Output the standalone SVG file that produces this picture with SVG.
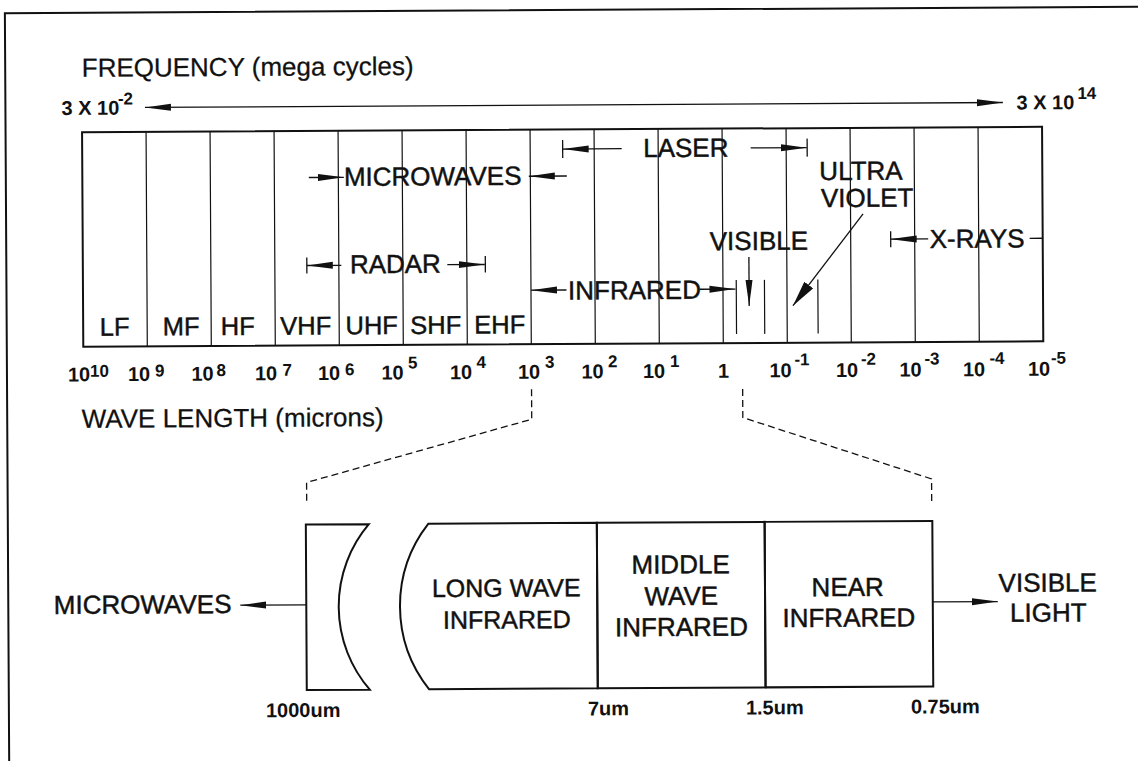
<svg xmlns="http://www.w3.org/2000/svg" width="1138" height="761" viewBox="0 0 1138 761">
<style>
.t{font-family:"Liberation Sans",Arial,Helvetica,sans-serif;fill:#111}
.h{font-size:26px;stroke:#111;stroke-width:0.45}
.ti{font-size:26px;stroke:#111;stroke-width:0.25}
.c{font-size:25.5px;text-anchor:middle;stroke:#111;stroke-width:0.45}
.m{font-size:26px;text-anchor:middle;stroke:#111;stroke-width:0.45}
.b{font-weight:bold;font-size:20px}
.s{font-weight:bold;font-size:17px}
.bx{stroke:#111;stroke-width:2;fill:none}
.dv{stroke:#111;stroke-width:1.2;fill:none}
.ln{stroke:#111;stroke-width:1.3;fill:none}
.ds{stroke:#111;stroke-width:1.3;fill:none;stroke-dasharray:7 4}
</style>
<defs>
<marker id="ah" viewBox="0 0 26 8" refX="26" refY="4" markerWidth="26" markerHeight="8" markerUnits="userSpaceOnUse" orient="auto-start-reverse"><path d="M0,0.5 L26,4 L0,7.5 Z" fill="#111"/></marker>
<marker id="ahw" viewBox="0 0 26 11" refX="26" refY="5.5" markerWidth="26" markerHeight="11" markerUnits="userSpaceOnUse" orient="auto"><path d="M0,0 L26,5.5 L0,11 Z" fill="#111"/></marker>
</defs>
<rect x="0" y="0" width="1138" height="761" fill="#fff"/>
<g transform="rotate(-0.33 569 380)">
<path id="frame" class="bx" d="M7,775 V10 H1160"/>

<g id="freq-axis">
<text class="t ti" x="83.5" y="74">FREQUENCY (mega cycles)</text>
<text class="t b" x="63" y="112">3 X 10<tspan class="s" x="119.5" y="102">-2</tspan></text>
<text class="t b" x="1018" y="112">3 X 10<tspan class="s" x="1079" y="102">14</tspan></text>
</g>

<g id="spectrum-band">
<rect class="bx" x="83.5" y="129.5" width="960" height="214.5"/>
<path class="dv" d="M147.5,129.5V344M211.5,129.5V344M275.5,129.5V344M339.5,129.5V344M403.5,129.5V344M467.5,129.5V344M531.5,129.5V344M595.5,129.5V344M659.5,129.5V344M723.5,129.5V344M787.5,129.5V344M851.5,129.5V344M915.5,129.5V344M979.5,129.5V344"/>
<path class="dv" d="M736.8,281V335M765,281V335M818.4,281V335"/>
</g>

<g id="band-names">
<text class="t c" x="115" y="333">LF</text>
<text class="t c" x="181.5" y="333">MF</text>
<text class="t c" x="238" y="333">HF</text>
<text class="t c" x="306" y="333">VHF</text>
<text class="t c" x="372" y="333">UHF</text>
<text class="t c" x="436" y="333">SHF</text>
<text class="t c" x="500" y="333">EHF</text>
</g>

<g id="wavelength-ticks">
<text class="t b" y="378.5"><tspan x="68">10</tspan><tspan class="s" x="90" y="374">10</tspan></text>
<text class="t b" y="378.5"><tspan x="128">10</tspan><tspan class="s" x="155" y="374">9</tspan></text>
<text class="t b" y="378.5"><tspan x="191.5">10</tspan><tspan class="s" x="216.5" y="374">8</tspan></text>
<text class="t b" y="378.5"><tspan x="255">10</tspan><tspan class="s" x="282.5" y="374">7</tspan></text>
<text class="t b" y="378.5"><tspan x="318">10</tspan><tspan class="s" x="345" y="374">6</tspan></text>
<text class="t b" y="378.5"><tspan x="381.5">10</tspan><tspan class="s" x="408" y="367.5">5</tspan></text>
<text class="t b" y="378.5"><tspan x="450">10</tspan><tspan class="s" x="476.5" y="367.5">4</tspan></text>
<text class="t b" y="378.5"><tspan x="518">10</tspan><tspan class="s" x="545" y="367.5">3</tspan></text>
<text class="t b" y="378.5"><tspan x="581.5">10</tspan><tspan class="s" x="608" y="367.5">2</tspan></text>
<text class="t b" y="378.5"><tspan x="643">10</tspan><tspan class="s" x="670" y="367.5">1</tspan></text>
<text class="t b" x="718" y="378.5">1</text>
<text class="t b" y="378.5"><tspan x="769.5">10</tspan><tspan class="s" x="794.5" y="366.5">-1</tspan></text>
<text class="t b" y="378.5"><tspan x="836">10</tspan><tspan class="s" x="861" y="366.5">-2</tspan></text>
<text class="t b" y="378.5"><tspan x="899.5">10</tspan><tspan class="s" x="924.5" y="366.5">-3</tspan></text>
<text class="t b" y="378.5"><tspan x="963">10</tspan><tspan class="s" x="989.5" y="366.5">-4</tspan></text>
<text class="t b" y="378.5"><tspan x="1028">10</tspan><tspan class="s" x="1051" y="366.5">-5</tspan></text>
<text class="t ti" x="81.5" y="425">WAVE LENGTH (microns)</text>
</g>

<g id="region-labels">
<text id="microwaves" class="t h" x="345" y="184.5">MICROWAVES</text>
<text id="laser" class="t h" x="644.5" y="157.5">LASER</text>
<text id="radar" class="t h" x="350.5" y="272">RADAR</text>
<text id="infrared" class="t h" x="568.5" y="299.5">INFRARED</text>
<text id="visible" class="t h" x="710.5" y="251">VISIBLE</text>
<text id="ultraviolet" class="t h" x="820.5" y="181.5">ULTRA<tspan x="822" y="208.5">VIOLET</tspan></text>
<text id="xrays" class="t h" x="930.5" y="250">X-RAYS</text>
</g>

<g id="connectors">
<line class="ln" x1="146.5" y1="105" x2="1004.5" y2="105" marker-start="url(#ah)" marker-end="url(#ah)"/>
<line class="ln" x1="310" y1="176" x2="345" y2="176" marker-end="url(#ah)"/>
<line class="ln" x1="568" y1="176" x2="530" y2="176" marker-end="url(#ah)"/>
<line class="ln" x1="623" y1="149" x2="564" y2="149" marker-end="url(#ah)"/>
<line class="ln" x1="564" y1="140" x2="564" y2="158"/>
<line class="ln" x1="752" y1="149" x2="808" y2="149" marker-end="url(#ah)"/>
<line class="ln" x1="808.5" y1="140" x2="808.5" y2="158"/>
<line class="ln" x1="342" y1="264" x2="307.5" y2="264" marker-end="url(#ah)"/>
<line class="ln" x1="307.5" y1="256" x2="307.5" y2="272"/>
<line class="ln" x1="448" y1="264" x2="485.5" y2="264" marker-end="url(#ah)"/>
<line class="ln" x1="486" y1="255.5" x2="486" y2="272"/>
<line class="ln" x1="567" y1="290" x2="531.5" y2="290" marker-end="url(#ah)"/>
<line class="ln" x1="700" y1="290" x2="736" y2="290" marker-end="url(#ah)"/>
<line class="ln" x1="749.6" y1="258" x2="749.6" y2="307" marker-end="url(#ah)"/>
<line class="ln" x1="864" y1="215.5" x2="793.4" y2="307" marker-end="url(#ahw)"/>
<line class="ln" x1="929" y1="241" x2="891.5" y2="241" marker-end="url(#ah)"/>
<line class="ln" x1="891.5" y1="233" x2="891.5" y2="249"/>
<line class="ln" x1="1030.5" y1="241" x2="1043.5" y2="241"/>
<polyline class="ds" points="531.5,389 531.5,419 306,481 306,502"/>
<polyline class="ds" points="742.6,390 742.6,418.5 931,481 931,503"/>
<line class="ln" x1="305" y1="603.3" x2="239" y2="603.3" marker-end="url(#ah)"/>
<line class="ln" x1="931.5" y1="604" x2="996.5" y2="604" marker-end="url(#ah)"/>
</g>

<g id="microwave-edge">
<path class="bx" stroke-width="1.6" d="M305,523 H368 A127.2,127.2 0 0 0 368,688.5 H305 Z"/>
</g>
<g id="long-wave-ir">
<path class="bx" stroke-width="1.6" d="M427.4,523 H596 V688.5 H427.4 A133.6,133.6 0 0 1 427.4,523 Z"/>
<text class="t m" x="505" y="596.3" style="font-size:25px">LONG WAVE</text>
<text class="t m" x="505.5" y="628" style="font-size:25px">INFRARED</text>
</g>
<g id="middle-wave-ir">
<rect class="bx" stroke-width="1.6" x="596" y="523" width="167.8" height="165.5"/>
<text class="t m" x="679.5" y="574">MIDDLE</text>
<text class="t m" x="680" y="605.6">WAVE</text>
<text class="t m" x="680" y="636.6">INFRARED</text>
</g>
<g id="near-ir">
<rect class="bx" stroke-width="1.6" x="763.8" y="523" width="167.7" height="165.5"/>
<text class="t m" x="846.5" y="597.6">NEAR</text>
<text class="t m" x="847.5" y="628.3">INFRARED</text>
</g>
<g id="lower-labels">
<text class="t h" x="52.5" y="611">MICROWAVES</text>
<text class="t m" x="1046.5" y="594.4">VISIBLE</text>
<text class="t m" x="1047" y="624.4">LIGHT</text>
<text class="t b" x="264" y="715.5">1000um</text>
<text class="t b" x="586" y="715.5">7um</text>
<text class="t b" x="744" y="715.5">1.5um</text>
<text class="t b" x="909" y="715.5">0.75um</text>
</g>
</g>
</svg>
